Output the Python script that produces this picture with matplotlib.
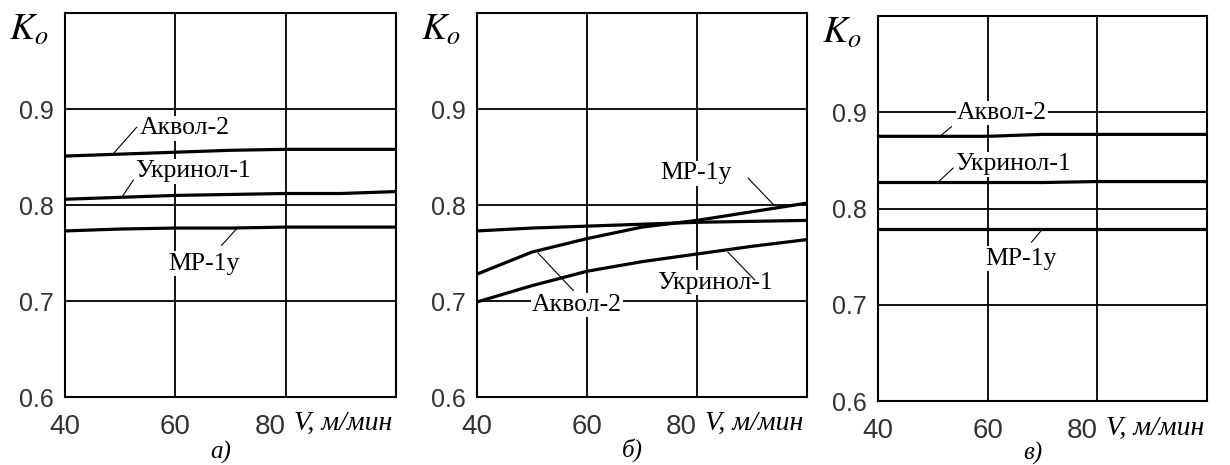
import matplotlib
matplotlib.use("Agg")
import matplotlib.pyplot as plt
import matplotlib.transforms as mtransforms

# cutting speed V, m/min
speed = [40, 50, 60, 70, 80, 90, 100]

# panel a)
a_akvol = [0.851, 0.853, 0.855, 0.857, 0.858, 0.858, 0.858]
a_ukrinol = [0.806, 0.808, 0.810, 0.811, 0.812, 0.812, 0.814]
a_mr = [0.773, 0.775, 0.776, 0.776, 0.777, 0.777, 0.777]

# panel б)
b_akvol = [0.728, 0.751, 0.765, 0.777, 0.784, 0.793, 0.802]
b_mr = [0.773, 0.776, 0.778, 0.780, 0.782, 0.783, 0.784]
b_ukrinol = [0.699, 0.716, 0.731, 0.741, 0.749, 0.757, 0.764]

# panel в)
c_akvol = [0.875, 0.875, 0.875, 0.877, 0.877, 0.877, 0.877]
c_ukrinol = [0.827, 0.827, 0.827, 0.827, 0.828, 0.828, 0.828]
c_mr = [0.779, 0.779, 0.779, 0.779, 0.779, 0.779, 0.779]

x_ticks = [40, 60, 80]
y_ticks = [0.6, 0.7, 0.8, 0.9]
panel_names = ["а)", "б)", "в)"]

# (text, text x, text y, leader start, leader end)
a_labels = [("Аквол-2", 53.5, 0.880, (53.0, 0.881), (48.7, 0.853)),
            ("Укринол-1", 52.7, 0.835, (52.4, 0.826), (50.3, 0.808)),
            ("МР-1у", 58.7, 0.739, (68.4, 0.758), (71.4, 0.777))]
b_labels = [("МР-1у", 73.3, 0.833, (89.3, 0.828), (93.8, 0.801)),
            ("Укринол-1", 72.7, 0.719, (90.5, 0.722), (85.6, 0.751)),
            ("Аквол-2", 50.0, 0.696, (57.5, 0.711), (51.1, 0.750))]
c_labels = [("Аквол-2", 54.4, 0.899, (53.4, 0.885), (51.3, 0.875)),
            ("Укринол-1", 54.0, 0.846, (53.7, 0.842), (50.9, 0.827)),
            ("МР-1у", 59.5, 0.748, (68.0, 0.765), (69.9, 0.778))]


def draw_panel(ax, series, labels, name, name_y):
    """one K_o(V) panel"""
    for s in series:
        ax.plot(speed, s, color="black", lw=2.3, zorder=4)
    for text, tx, ty, p0, p1 in labels:
        ax.text(tx, ty, text, ha="left", va="center", fontsize=18.5,
                family="Liberation Serif", zorder=3,
                bbox=dict(facecolor="white", edgecolor="none", pad=1))
        ax.plot([p0[0], p1[0]], [p0[1], p1[1]], color="black", lw=0.8,
                zorder=4)
    ax.set_xlim(40, 100)
    ax.set_ylim(0.6, 1.0)
    ax.set_xticks(x_ticks)
    ax.set_yticks(y_ticks)
    ax.set_xticklabels([str(t) for t in x_ticks], fontsize=20,
                       family="Liberation Sans")
    ax.set_yticklabels([str(t) for t in y_ticks], fontsize=18,
                       family="Liberation Sans")
    ax.get_xticklabels()[2].set_ha("right")
    ax.tick_params(length=0, colors="#333333")
    ax.tick_params(axis="x", pad=12)
    ax.tick_params(axis="y", pad=8)
    ax.set_axisbelow(True)
    ax.grid(True, color="black", lw=1.3)
    for sp in ax.spines.values():
        sp.set_linewidth(1.5)
    trans = mtransforms.blended_transform_factory(ax.transData, ax.transAxes)
    ax.text(81.5, -0.07, "V, м/мин", transform=trans, ha="left",
            va="center", fontsize=20, style="italic",
            family="Liberation Serif")
    ax.text(68.3, name_y, name, transform=trans, ha="center", va="center",
            fontsize=18, style="italic", family="Liberation Serif")
    ax.text(-0.17, 0.955, r"$K_o$", transform=ax.transAxes, fontsize=27,
            ha="left", va="center")


def main():
    plt.rcParams["mathtext.fontset"] = "stix"
    fig = plt.figure(figsize=(12.3, 4.65), dpi=100)
    ax_a = fig.add_axes([0.0528, 0.1462, 0.2691, 0.8258])
    ax_b = fig.add_axes([0.3878, 0.1462, 0.2683, 0.8258])
    ax_c = fig.add_axes([0.7138, 0.1376, 0.2675, 0.8280])
    draw_panel(ax_a, [a_akvol, a_ukrinol, a_mr], a_labels, panel_names[0], -0.145)
    draw_panel(ax_b, [b_akvol, b_mr, b_ukrinol], b_labels, panel_names[1], -0.138)
    draw_panel(ax_c, [c_akvol, c_ukrinol, c_mr], c_labels, panel_names[2], -0.135)
    fig.savefig("out.png", dpi=100)


if __name__ == "__main__":
    main()
